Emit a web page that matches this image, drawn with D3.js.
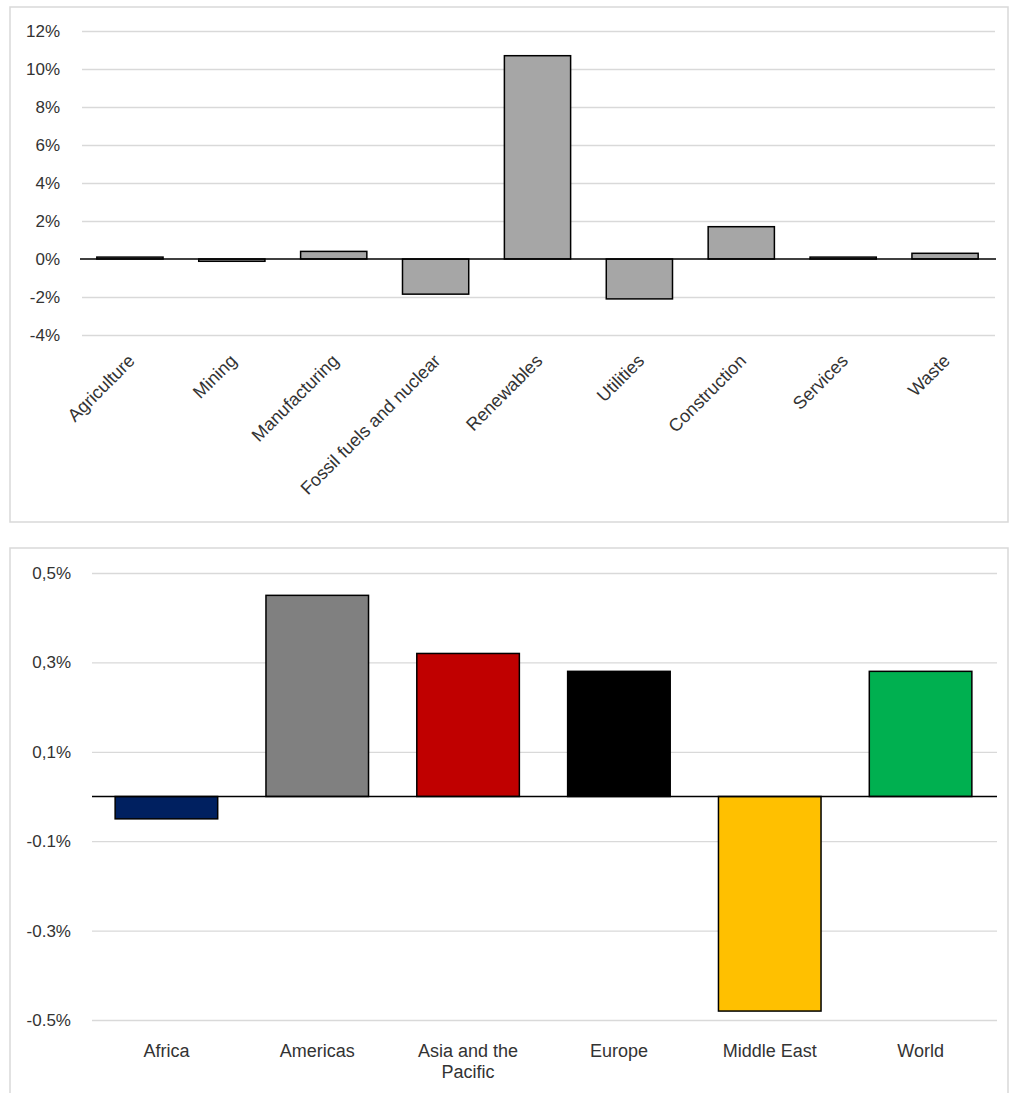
<!DOCTYPE html>
<html>
<head>
<meta charset="utf-8">
<script src="https://cdn.jsdelivr.net/npm/d3@7"></script>
<style>
  body { margin: 0; background: #fff; }
  svg { display: block; font-family: "Liberation Sans", Arial, sans-serif; }
  .frame { fill: none; stroke: #d9d9d9; stroke-width: 1.5px; }
  .grid line { stroke: #d9d9d9; stroke-width: 1.3px; }
  .grid path { display: none; }
  .yaxis path, .yaxis line { display: none; }
  .yaxis text { fill: #333; font-size: 17px; }
  .xlabel { fill: #333; font-size: 18px; }
  .zero { stroke: #000; stroke-width: 1.5px; }
</style>
</head>
<body>
<svg id="chart" width="1015" height="1093"></svg>
<script>
// top chart: change by sector (%)
var sectors = ["Agriculture", "Mining", "Manufacturing", "Fossil fuels and nuclear", "Renewables", "Utilities", "Construction", "Services", "Waste"];
var sectorValues = [0.1, -0.12, 0.4, -1.85, 10.7, -2.1, 1.7, 0.1, 0.3];
var topTicks = [-4, -2, 0, 2, 4, 6, 8, 10, 12];
var topTickLabels = ["-4%", "-2%", "0%", "2%", "4%", "6%", "8%", "10%", "12%"];

// bottom chart: change by region (%)
var regions = ["Africa", "Americas", "Asia and the Pacific", "Europe", "Middle East", "World"];
var regionLines = [["Africa"], ["Americas"], ["Asia and the", "Pacific"], ["Europe"], ["Middle East"], ["World"]];
var regionValues = [-0.05, 0.45, 0.32, 0.28, -0.48, 0.28];
var regionColors = ["#002060", "#808080", "#c00000", "#000000", "#ffc000", "#00b050"];
var bottomTicks = [-0.5, -0.3, -0.1, 0.1, 0.3, 0.5];
var bottomTickLabels = ["-0.5%", "-0.3%", "-0.1%", "0,1%", "0,3%", "0,5%"];

(function () {
  var svg = d3.select("#chart");

  // ---- top panel ----
  svg.append("rect").attr("class", "frame").attr("x", 10).attr("y", 7).attr("width", 998).attr("height", 515);

  var x1 = d3.scaleBand().domain(sectors).range([79, 996]).paddingInner(0.35).paddingOuter(0.175);
  var y1 = d3.scaleLinear().domain([-4, 12]).range([335, 31]);

  svg.append("g").attr("class", "grid").attr("transform", "translate(82,0)")
    .call(d3.axisLeft(y1).tickValues(topTicks.filter(function (d) { return d !== 0; })).tickSize(-913).tickFormat(""));

  svg.append("g").attr("class", "yaxis").attr("transform", "translate(60,0)")
    .call(d3.axisLeft(y1).tickValues(topTicks).tickSize(0).tickPadding(0)
      .tickFormat(function (d, i) { return topTickLabels[i]; }));

  svg.append("g").selectAll("rect").data(sectors).enter().append("rect")
    .attr("x", function (d) { return x1(d); })
    .attr("width", x1.bandwidth())
    .attr("y", function (d, i) { return y1(Math.max(0, sectorValues[i])); })
    .attr("height", function (d, i) { return Math.abs(y1(sectorValues[i]) - y1(0)); })
    .attr("fill", "#a6a6a6").attr("stroke", "#000").attr("stroke-width", 1.5);

  svg.append("line").attr("class", "zero").attr("x1", 80).attr("x2", 996).attr("y1", y1(0)).attr("y2", y1(0));

  svg.append("g").selectAll("text").data(sectors).enter().append("text")
    .attr("class", "xlabel")
    .attr("text-anchor", "end")
    .attr("transform", function (d) { return "translate(" + (x1(d) + x1.bandwidth() / 2 + 6) + ",362) rotate(-45)"; })
    .text(function (d) { return d; });

  // ---- bottom panel ----
  svg.append("rect").attr("class", "frame").attr("x", 10).attr("y", 548).attr("width", 998).attr("height", 560);

  var x2 = d3.scaleBand().domain(regions).range([91, 996]).paddingInner(0.32).paddingOuter(0.16);
  var y2 = d3.scaleLinear().domain([-0.5, 0.5]).range([1020, 573]);

  svg.append("g").attr("class", "grid").attr("transform", "translate(92,0)")
    .call(d3.axisLeft(y2).tickValues(bottomTicks).tickSize(-905).tickFormat(""));

  svg.append("g").attr("class", "yaxis").attr("transform", "translate(71,0)")
    .call(d3.axisLeft(y2).tickValues(bottomTicks).tickSize(0).tickPadding(0)
      .tickFormat(function (d, i) { return bottomTickLabels[i]; }));

  svg.append("g").selectAll("rect").data(regions).enter().append("rect")
    .attr("x", function (d) { return x2(d); })
    .attr("width", x2.bandwidth())
    .attr("y", function (d, i) { return y2(Math.max(0, regionValues[i])); })
    .attr("height", function (d, i) { return Math.abs(y2(regionValues[i]) - y2(0)); })
    .attr("fill", function (d, i) { return regionColors[i]; })
    .attr("stroke", "#000").attr("stroke-width", 1.5);

  svg.append("line").attr("class", "zero").attr("x1", 92).attr("x2", 997).attr("y1", y2(0)).attr("y2", y2(0));

  var lab = svg.append("g").selectAll("text").data(regions).enter().append("text")
    .attr("class", "xlabel")
    .attr("text-anchor", "middle")
    .attr("x", function (d) { return x2(d) + x2.bandwidth() / 2; })
    .attr("y", 1057);
  lab.each(function (d, i) {
    var t = d3.select(this);
    regionLines[i].forEach(function (s, j) {
      t.append("tspan").attr("x", t.attr("x")).attr("dy", j === 0 ? 0 : 21).text(s);
    });
  });
})();
</script>
</body>
</html>
